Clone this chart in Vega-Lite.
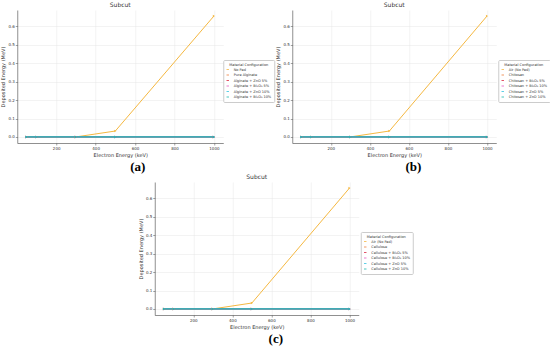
{
  "$schema": "https://vega.github.io/schema/vega-lite/v6.json",
  "padding": {"left": 0, "top": 2, "right": 0, "bottom": 0},
  "background": "white",
  "datasets": {
    "a": [
      {"config": "No Pad", "energy": 50, "dep": 0}, {"config": "No Pad", "energy": 100, "dep": 0}, {"config": "No Pad", "energy": 300, "dep": 0}, {"config": "No Pad", "energy": 500, "dep": 0.032}, {"config": "No Pad", "energy": 1000, "dep": 0.656},
      {"config": "Pure Alginate", "energy": 50, "dep": 0}, {"config": "Pure Alginate", "energy": 100, "dep": 0}, {"config": "Pure Alginate", "energy": 300, "dep": 0}, {"config": "Pure Alginate", "energy": 500, "dep": 0}, {"config": "Pure Alginate", "energy": 1000, "dep": 0},
      {"config": "Alginate + ZnO 5%", "energy": 50, "dep": 0}, {"config": "Alginate + ZnO 5%", "energy": 100, "dep": 0}, {"config": "Alginate + ZnO 5%", "energy": 300, "dep": 0}, {"config": "Alginate + ZnO 5%", "energy": 500, "dep": 0}, {"config": "Alginate + ZnO 5%", "energy": 1000, "dep": 0},
      {"config": "Alginate + Bi₂O₃ 5%", "energy": 50, "dep": 0}, {"config": "Alginate + Bi₂O₃ 5%", "energy": 100, "dep": 0}, {"config": "Alginate + Bi₂O₃ 5%", "energy": 300, "dep": 0}, {"config": "Alginate + Bi₂O₃ 5%", "energy": 500, "dep": 0}, {"config": "Alginate + Bi₂O₃ 5%", "energy": 1000, "dep": 0},
      {"config": "Alginate + ZnO 10%", "energy": 50, "dep": 0}, {"config": "Alginate + ZnO 10%", "energy": 100, "dep": 0}, {"config": "Alginate + ZnO 10%", "energy": 300, "dep": 0}, {"config": "Alginate + ZnO 10%", "energy": 500, "dep": 0}, {"config": "Alginate + ZnO 10%", "energy": 1000, "dep": 0},
      {"config": "Alginate + Bi₂O₃ 10%", "energy": 50, "dep": 0}, {"config": "Alginate + Bi₂O₃ 10%", "energy": 100, "dep": 0}, {"config": "Alginate + Bi₂O₃ 10%", "energy": 300, "dep": 0}, {"config": "Alginate + Bi₂O₃ 10%", "energy": 500, "dep": 0}, {"config": "Alginate + Bi₂O₃ 10%", "energy": 1000, "dep": 0}
    ],
    "b": [
      {"config": "Air (No Pad)", "energy": 50, "dep": 0}, {"config": "Air (No Pad)", "energy": 100, "dep": 0}, {"config": "Air (No Pad)", "energy": 300, "dep": 0}, {"config": "Air (No Pad)", "energy": 500, "dep": 0.032}, {"config": "Air (No Pad)", "energy": 1000, "dep": 0.656},
      {"config": "Chitosan", "energy": 50, "dep": 0}, {"config": "Chitosan", "energy": 100, "dep": 0}, {"config": "Chitosan", "energy": 300, "dep": 0}, {"config": "Chitosan", "energy": 500, "dep": 0}, {"config": "Chitosan", "energy": 1000, "dep": 0},
      {"config": "Chitosan + Bi₂O₃ 5%", "energy": 50, "dep": 0}, {"config": "Chitosan + Bi₂O₃ 5%", "energy": 100, "dep": 0}, {"config": "Chitosan + Bi₂O₃ 5%", "energy": 300, "dep": 0}, {"config": "Chitosan + Bi₂O₃ 5%", "energy": 500, "dep": 0}, {"config": "Chitosan + Bi₂O₃ 5%", "energy": 1000, "dep": 0},
      {"config": "Chitosan + Bi₂O₃ 10%", "energy": 50, "dep": 0}, {"config": "Chitosan + Bi₂O₃ 10%", "energy": 100, "dep": 0}, {"config": "Chitosan + Bi₂O₃ 10%", "energy": 300, "dep": 0}, {"config": "Chitosan + Bi₂O₃ 10%", "energy": 500, "dep": 0}, {"config": "Chitosan + Bi₂O₃ 10%", "energy": 1000, "dep": 0},
      {"config": "Chitosan + ZnO 5%", "energy": 50, "dep": 0}, {"config": "Chitosan + ZnO 5%", "energy": 100, "dep": 0}, {"config": "Chitosan + ZnO 5%", "energy": 300, "dep": 0}, {"config": "Chitosan + ZnO 5%", "energy": 500, "dep": 0}, {"config": "Chitosan + ZnO 5%", "energy": 1000, "dep": 0},
      {"config": "Chitosan + ZnO 10%", "energy": 50, "dep": 0}, {"config": "Chitosan + ZnO 10%", "energy": 100, "dep": 0}, {"config": "Chitosan + ZnO 10%", "energy": 300, "dep": 0}, {"config": "Chitosan + ZnO 10%", "energy": 500, "dep": 0}, {"config": "Chitosan + ZnO 10%", "energy": 1000, "dep": 0}
    ],
    "c": [
      {"config": "Air (No Pad)", "energy": 50, "dep": 0}, {"config": "Air (No Pad)", "energy": 100, "dep": 0}, {"config": "Air (No Pad)", "energy": 300, "dep": 0}, {"config": "Air (No Pad)", "energy": 500, "dep": 0.032}, {"config": "Air (No Pad)", "energy": 1000, "dep": 0.656},
      {"config": "Cellulose", "energy": 50, "dep": 0}, {"config": "Cellulose", "energy": 100, "dep": 0}, {"config": "Cellulose", "energy": 300, "dep": 0}, {"config": "Cellulose", "energy": 500, "dep": 0}, {"config": "Cellulose", "energy": 1000, "dep": 0},
      {"config": "Cellulose + Bi₂O₃ 5%", "energy": 50, "dep": 0}, {"config": "Cellulose + Bi₂O₃ 5%", "energy": 100, "dep": 0}, {"config": "Cellulose + Bi₂O₃ 5%", "energy": 300, "dep": 0}, {"config": "Cellulose + Bi₂O₃ 5%", "energy": 500, "dep": 0}, {"config": "Cellulose + Bi₂O₃ 5%", "energy": 1000, "dep": 0},
      {"config": "Cellulose + Bi₂O₃ 10%", "energy": 50, "dep": 0}, {"config": "Cellulose + Bi₂O₃ 10%", "energy": 100, "dep": 0}, {"config": "Cellulose + Bi₂O₃ 10%", "energy": 300, "dep": 0}, {"config": "Cellulose + Bi₂O₃ 10%", "energy": 500, "dep": 0}, {"config": "Cellulose + Bi₂O₃ 10%", "energy": 1000, "dep": 0},
      {"config": "Cellulose + ZnO 5%", "energy": 50, "dep": 0}, {"config": "Cellulose + ZnO 5%", "energy": 100, "dep": 0}, {"config": "Cellulose + ZnO 5%", "energy": 300, "dep": 0}, {"config": "Cellulose + ZnO 5%", "energy": 500, "dep": 0}, {"config": "Cellulose + ZnO 5%", "energy": 1000, "dep": 0},
      {"config": "Cellulose + ZnO 10%", "energy": 50, "dep": 0}, {"config": "Cellulose + ZnO 10%", "energy": 100, "dep": 0}, {"config": "Cellulose + ZnO 10%", "energy": 300, "dep": 0}, {"config": "Cellulose + ZnO 10%", "energy": 500, "dep": 0}, {"config": "Cellulose + ZnO 10%", "energy": 1000, "dep": 0}
    ]
  },
  "config": {
    "font": "DejaVu Sans",
    "view": {"stroke": null},
    "concat": {"spacing": 0},
    "axis": {
      "labelFontSize": 4, "titleFontSize": 5, "labelColor": "#333", "titleColor": "#333", "titleFontWeight": "normal",
      "gridColor": "#e6e6e6", "gridWidth": 0.5, "domainColor": "#444", "domainWidth": 0.6, "tickColor": "#444", "tickSize": 2, "tickWidth": 0.5,
      "labelPadding": 1, "titlePadding": 2
    },
    "title": {"fontSize": 6, "fontWeight": "normal", "color": "#333", "offset": 2},
    "legend": {
      "orient": "none", "legendX": 206, "legendY": 50,
      "titleFontSize": 3.5, "titleFontWeight": "normal", "labelFontSize": 3.5, "titleColor": "#333", "labelColor": "#333",
      "symbolSize": 6, "symbolStrokeWidth": 0.8, "rowPadding": 1.5, "titlePadding": 1.5, "padding": 2.5,
      "strokeColor": "#ccc", "fillColor": "white", "cornerRadius": 1, "titleAnchor": "middle"
    }
  },
  "resolve": {"scale": {"color": "independent"}, "legend": {"color": "independent"}},
  "vconcat": [
    {
      "spacing": 0,
      "resolve": {"scale": {"color": "independent"}, "legend": {"color": "independent"}},
      "hconcat": [
        {
          "title": {"text": "(a)", "orient": "bottom", "font": "Liberation Serif", "fontSize": 13, "fontWeight": "bold", "color": "black", "offset": 4, "anchor": "middle"},
          "vconcat": [
            {
              "width": 206, "height": 133,
              "title": "Subcut",
              "data": {"name": "a"},
              "mark": {"type": "line", "strokeWidth": 1, "point": {"filled": true, "size": 6, "shape": "triangle-right"}},
              "encoding": {
                "x": {"field": "energy", "type": "quantitative", "title": "Electron Energy (keV)", "scale": {"domain": [2.5, 1047.5], "nice": false, "zero": false}, "axis": {"values": [200, 400, 600, 800, 1000], "format": "d"}},
                "y": {"field": "dep", "type": "quantitative", "title": "Deposited Energy (MeV)", "scale": {"domain": [-0.033, 0.689], "nice": false}, "axis": {"values": [0, 0.1, 0.2, 0.3, 0.4, 0.5, 0.6], "format": ".1f"}},
                "color": {"field": "config", "type": "nominal", "title": "Material Configuration",
                  "scale": {"domain": ["No Pad", "Pure Alginate", "Alginate + ZnO 5%", "Alginate + Bi₂O₃ 5%", "Alginate + ZnO 10%", "Alginate + Bi₂O₃ 10%"],
                    "range": ["#f5b841", "#ee7d3b", "#d9263e", "#e35bc0", "#33c3e0", "#1ab8ac"]}},
                "order": {"value": 0}
              }
            }
          ]
        },
        {
          "title": {"text": "(b)", "orient": "bottom", "font": "Liberation Serif", "fontSize": 13, "fontWeight": "bold", "color": "black", "offset": 4, "anchor": "middle"},
          "vconcat": [
            {
              "width": 204, "height": 133,
              "title": "Subcut",
              "data": {"name": "b"},
              "mark": {"type": "line", "strokeWidth": 1, "point": {"filled": true, "size": 6, "shape": "triangle-right"}},
              "encoding": {
                "x": {"field": "energy", "type": "quantitative", "title": "Electron Energy (keV)", "scale": {"domain": [2.5, 1047.5], "nice": false, "zero": false}, "axis": {"values": [200, 400, 600, 800, 1000], "format": "d"}},
                "y": {"field": "dep", "type": "quantitative", "title": "Deposited Energy (MeV)", "scale": {"domain": [-0.033, 0.689], "nice": false}, "axis": {"values": [0, 0.1, 0.2, 0.3, 0.4, 0.5, 0.6], "format": ".1f"}},
                "color": {"field": "config", "type": "nominal", "title": "Material Configuration",
                  "scale": {"domain": ["Air (No Pad)", "Chitosan", "Chitosan + Bi₂O₃ 5%", "Chitosan + Bi₂O₃ 10%", "Chitosan + ZnO 5%", "Chitosan + ZnO 10%"],
                    "range": ["#f5b841", "#ee7d3b", "#d9263e", "#e35bc0", "#33c3e0", "#1ab8ac"]}},
                "order": {"value": 0}
              }
            }
          ]
        }
      ]
    },
    {
      "title": {"text": "(c)", "orient": "bottom", "font": "Liberation Serif", "fontSize": 13, "fontWeight": "bold", "color": "black", "offset": 4, "anchor": "middle"},
      "vconcat": [
        {
          "width": 204, "height": 133,
          "title": "Subcut",
          "data": {"name": "c"},
          "mark": {"type": "line", "strokeWidth": 1, "point": {"filled": true, "size": 6, "shape": "triangle-right"}},
          "encoding": {
            "x": {"field": "energy", "type": "quantitative", "title": "Electron Energy (keV)", "scale": {"domain": [2.5, 1047.5], "nice": false, "zero": false}, "axis": {"values": [200, 400, 600, 800, 1000], "format": "d"}},
            "y": {"field": "dep", "type": "quantitative", "title": "Deposited Energy (MeV)", "scale": {"domain": [-0.033, 0.689], "nice": false}, "axis": {"values": [0, 0.1, 0.2, 0.3, 0.4, 0.5, 0.6], "format": ".1f"}},
            "color": {"field": "config", "type": "nominal", "title": "Material Configuration",
              "scale": {"domain": ["Air (No Pad)", "Cellulose", "Cellulose + Bi₂O₃ 5%", "Cellulose + Bi₂O₃ 10%", "Cellulose + ZnO 5%", "Cellulose + ZnO 10%"],
                "range": ["#f5b841", "#ee7d3b", "#d9263e", "#e35bc0", "#33c3e0", "#1ab8ac"]}},
            "order": {"value": 0}
          }
        }
      ]
    }
  ],
  "center": true
}
